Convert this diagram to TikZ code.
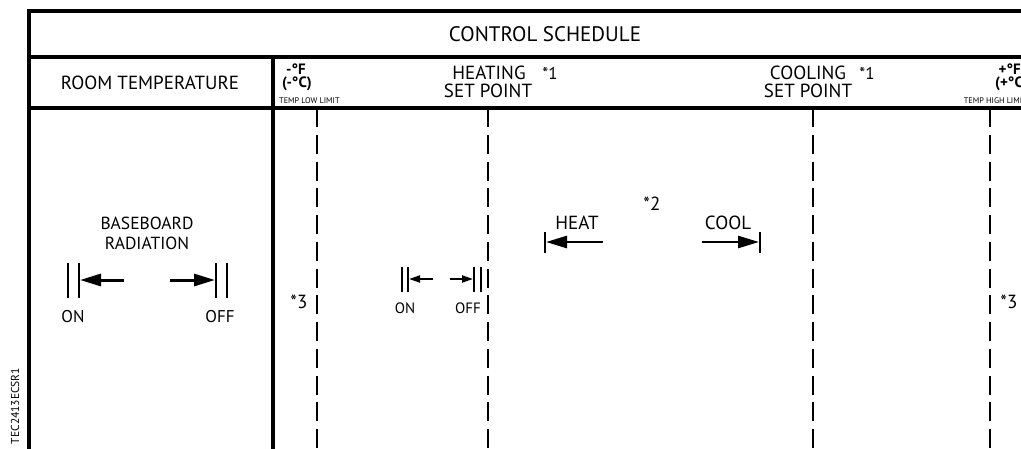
\documentclass[tikz,border=0pt]{standalone}
\usepackage{fontspec}
\setmainfont{PT Sans}
\usetikzlibrary{arrows.meta}

\begin{document}
\begin{tikzpicture}[x=1pt,y=-1pt,font=\fontsize{19}{19}\selectfont,
  frame/.style={line width=3.2pt},
  limit/.style={line width=2.2pt,dash pattern=on 19pt off 7.75pt},
  bar/.style={line width=2pt},
  bigarrow/.style={line width=3pt,-{Triangle[length=21pt,width=12pt]}},
  smallarrow/.style={line width=2pt,-{Triangle[length=11pt,width=7pt]}},
  lbl/.style={inner sep=0pt},
  degree/.style={inner sep=0pt,font=\fontsize{15}{15}\selectfont\bfseries},
  tiny/.style={inner sep=0pt,font=\fontsize{8.2}{8}\selectfont}]
  \useasboundingbox (0,0) rectangle (1021,448);
  \clip (0,0) rectangle (1021,448);
  \draw[frame] (29,460) -- (29,11) -- (1060,11);
  \draw[frame] (29,57) -- (1060,57);
  \draw[frame] (29,108) -- (1060,108);
  \draw[frame] (273,57) -- (273,460);
  \foreach \x in {317,488,813,990}{\draw[limit] (\x,108) -- (\x,460);}
  \node[lbl,font=\fontsize{21}{21}\selectfont] (title) at (545,34) {CONTROL SCHEDULE};
  \node[lbl] (roomtemp) at (150,83) {ROOM TEMPERATURE};
  \node[degree] (lowf) at (296,69) {-°F};
  \node[degree] (lowc) at (297,84) {(-°C)};
  \node[tiny,anchor=west] (lowlimit) at (279,101) {TEMP LOW LIMIT};
  \node[degree,anchor=east] (highf) at (1021,69) {+°F};
  \node[degree,anchor=east] (highc) at (1028,84) {(+°C)};
  \node[tiny,anchor=east] (highlimit) at (1027,101) {TEMP HIGH LIMIT};
  \node[lbl] (heating) at (489,72.5) {HEATING};
  \node[lbl] (heatsp) at (488,90.5) {SET POINT};
  \node[lbl,font=\fontsize{17}{17}\selectfont] (heatnote) at (550,73) {*1};
  \node[lbl] (cooling) at (808,72.5) {COOLING};
  \node[lbl] (coolsp) at (808,90.5) {SET POINT};
  \node[lbl,font=\fontsize{17}{17}\selectfont] (coolnote) at (867,73) {*1};
  \node[rotate=90,inner sep=0pt,font=\fontsize{11.5}{11}\selectfont] (drawingno) at (15,406) {TEC2413ECSR1};
  % baseboard radiation
  \node[lbl,font=\fontsize{17.5}{17}\selectfont] (baseboard) at (147,223) {BASEBOARD};
  \node[lbl,font=\fontsize{17.5}{17}\selectfont] (radiation) at (147,243) {RADIATION};
  \foreach \x in {68,79,216,227}{\draw[bar] (\x,263) -- (\x,298);}
  \coordinate (bbon) at (80,280);
  \coordinate (bboff) at (215,280);
  \draw[bigarrow] (124,280) coordinate (bbonstart) -- (bbon);
  \draw[bigarrow] (170,280) coordinate (bboffstart) -- (bboff);
  \node[lbl,font=\fontsize{17}{17}\selectfont] (bbonlbl) at (73,317) {ON};
  \node[lbl,font=\fontsize{17}{17}\selectfont] (bbofflbl) at (220,317) {OFF};
  % small on/off
  \foreach \x in {402,408,474,481}{\draw[line width=1.6pt] (\x,267) -- (\x,292);}
  \coordinate (smon) at (409,279);
  \coordinate (smoff) at (473,279);
  \draw[smallarrow] (433,279) coordinate (smonstart) -- (smon);
  \draw[smallarrow] (450,279) coordinate (smoffstart) -- (smoff);
  \node[lbl,font=\fontsize{15}{15}\selectfont] (smonlbl) at (405,308) {ON};
  \node[lbl,font=\fontsize{15}{15}\selectfont] (smofflbl) at (468,308) {OFF};
  \node[lbl,font=\fontsize{19}{19}\selectfont] (lownote) at (299,302) {*3};
  \node[lbl,font=\fontsize{19}{19}\selectfont] (highnote) at (1009,302) {*3};
  % heat / cool
  \node[lbl,font=\fontsize{19}{19}\selectfont] (deadband) at (652,204) {*2};
  \node[lbl] (heat) at (577,223) {HEAT};
  \node[lbl] (cool) at (728,223) {COOL};
  \draw[line width=1.6pt] (545,232) -- (545,253);
  \draw[line width=1.6pt] (760,232) -- (760,253);
  \coordinate (heatend) at (546,242);
  \coordinate (coolend) at (759,242);
  \draw[bigarrow,line width=2.6pt] (603,242) coordinate (heatstart) -- (heatend);
  \draw[bigarrow,line width=2.6pt] (702,242) coordinate (coolstart) -- (coolend);
\end{tikzpicture}
\end{document}
